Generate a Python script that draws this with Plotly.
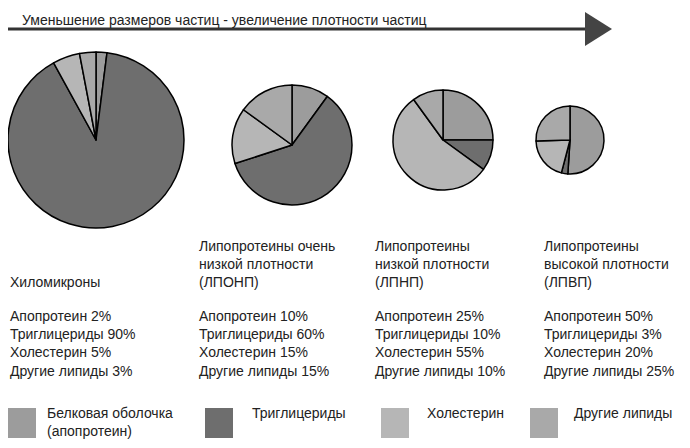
import plotly.graph_objects as go

components = ["Белковая оболочка (апопротеин)", "Триглицериды", "Холестерин", "Другие липиды"]
colors = ["#9c9c9c", "#6e6e6e", "#b6b6b6", "#a9a9a9"]
names = ["Хиломикроны", "Липопротеины очень<br>низкой плотности<br>(ЛПОНП)",
         "Липопротеины<br>низкой плотности<br>(ЛПНП)", "Липопротеины<br>высокой плотности<br>(ЛПВП)"]
apo = [2, 10, 25, 50]
tri = [90, 60, 10, 3]
chol = [5, 15, 55, 20]
other = [3, 15, 10, 25]
W, H = 690, 448
O = 8  # page offset compensation
pie_px = [(88 + O, 140, 88), (292, 145, 60), (443, 140, 50), (570, 140, 34)]
text_x = [3, 192, 368, 537]

def px(x):
    return max(0, (x - O)) / W

def py(y):
    return 1 - (y - O) / H

fig = go.Figure()
for i, (cx, cy, r) in enumerate(pie_px):
    fig.add_trace(go.Pie(values=[apo[i], tri[i], chol[i], other[i]], labels=components,
                         sort=False, direction="clockwise", rotation=0,
                         marker=dict(colors=colors, line=dict(color="black", width=1.5)),
                         textinfo="none", hoverinfo="skip", showlegend=False,
                         domain=dict(x=[px(cx - r), px(cx + r)], y=[py(cy + r), py(cy - r)])))

font = dict(family="Liberation Sans, Arial", size=14, color="#222")
ann = []
for i in range(4):
    ann.append(dict(x=px(text_x[i] + 5), y=py(292), xref="paper", yref="paper", xanchor="left", yanchor="bottom",
                    text=names[i], showarrow=False, align="left", font=font))
    lines = [f"Апопротеин {apo[i]}%", f"Триглицериды {tri[i]}%", f"Холестерин {chol[i]}%", f"Другие липиды {other[i]}%"]
    ann.append(dict(x=px(text_x[i] + 5), y=py(306), xref="paper", yref="paper", xanchor="left", yanchor="top",
                    text="<br>".join(lines), showarrow=False, align="left", font=font))
ann.append(dict(x=px(20), y=py(10), xref="paper", yref="paper", xanchor="left", yanchor="top",
                text="Уменьшение размеров частиц - увеличение плотности частиц", showarrow=False, font=font))
leg_x = [(8, 45), (205, 250), (381, 425), (530, 572)]
leg_text = ["Белковая оболочка<br>(апопротеин)", "Триглицериды", "Холестерин", "Другие липиды"]
shapes = [dict(type="line", xref="paper", yref="paper", x0=0, x1=px(590), y0=py(29), y1=py(29),
               line=dict(color="#333", width=3)),
          dict(type="path", xref="paper", yref="paper",
               path=f"M {px(585)} {py(12)} L {px(612)} {py(29)} L {px(585)} {py(46)} Z",
               fillcolor="#444", line=dict(width=0))]
for i, (sx, tx) in enumerate(leg_x):
    shapes.append(dict(type="rect", xref="paper", yref="paper", x0=px(sx), x1=px(sx + 28),
                       y0=py(438), y1=py(408), fillcolor=colors[i], line=dict(width=0)))
    ann.append(dict(x=px(tx), y=py(403), xref="paper", yref="paper", xanchor="left", yanchor="top",
                    text=leg_text[i], showarrow=False, align="left", font=font))

fig.update_layout(width=W, height=H, margin=dict(l=0, r=0, t=0, b=0), paper_bgcolor="white",
                  annotations=ann, shapes=shapes)
fig.write_html("out.html")
